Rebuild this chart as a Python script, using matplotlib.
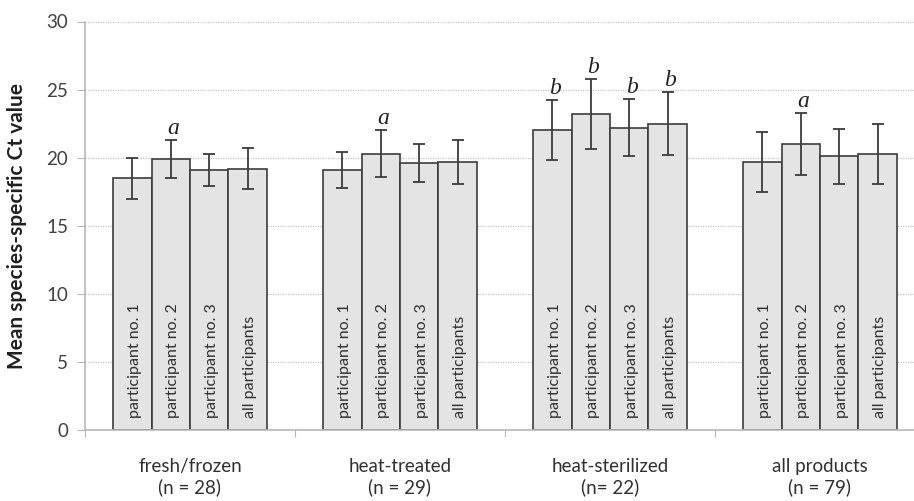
import matplotlib.pyplot as plt
import numpy as np

groups = ['fresh/frozen\n(n = 28)', 'heat-treated\n(n = 29)',
          'heat-sterilized\n(n= 22)', 'all products\n(n = 79)']
bar_labels = ['participant no. 1', 'participant no. 2',
              'participant no. 3', 'all participants']
# mean Ct per group (rows) and participant (columns)
means = [[18.5, 19.9, 19.1, 19.2],
         [19.1, 20.3, 19.6, 19.7],
         [22.0, 23.2, 22.2, 22.5],
         [19.7, 21.0, 20.1, 20.3]]
errors = [[1.5, 1.4, 1.2, 1.5],
          [1.3, 1.7, 1.4, 1.6],
          [2.2, 2.6, 2.1, 2.3],
          [2.2, 2.3, 2.0, 2.2]]
letters = [['', 'a', '', ''],
           ['', 'a', '', ''],
           ['b', 'b', 'b', 'b'],
           ['', 'a', '', '']]

plt.rcParams['font.family'] = ['Lato', 'DejaVu Sans']

fig = plt.figure(figsize=(9.14, 5.01), dpi=100)
ax = fig.add_axes([85 / 914, 71 / 501, 840 / 914, 408.5 / 501])

means = np.array(means)
errors = np.array(errors)
width = 0.183
offsets = (np.arange(4) - 1.5) * width
txt_col = '#404040'
edge = '#3c3c3c'

for g in range(len(groups)):
    xs = g + 0.5 + offsets
    ax.bar(xs, means[g], width=width, color='#e4e4e4', edgecolor=edge,
           linewidth=1.2, zorder=2)
    ax.errorbar(xs, means[g], yerr=errors[g], fmt='none', ecolor=edge,
                elinewidth=1.3, capsize=4, capthick=1.3, zorder=3)
    for i, x in enumerate(xs):
        ax.text(x + 0.012, 0.85, bar_labels[i], rotation=90, ha='center',
                va='bottom', fontsize=11.5, color='#303030', zorder=4)
        if letters[g][i]:
            ax.text(x + 0.012, means[g][i] + errors[g][i] + 0.45, letters[g][i],
                    ha='center', va='baseline', fontsize=17, style='italic',
                    family='Liberation Serif', color='#222222', zorder=4)

ax.set_xlim(0, 4)
ax.set_ylim(0, 30)
ax.set_yticks(np.arange(0, 31, 5))
ax.yaxis.grid(True, linestyle=(0, (1, 1)), color='#c4c4c4', linewidth=0.9, zorder=0)
ax.set_axisbelow(True)

ax.set_xticks(np.arange(0, 5))
ax.set_xticklabels([])
ax.set_xticks(np.arange(4) + 0.5, minor=True)
ax.set_xticklabels(groups, minor=True, fontsize=13.5, color='#303030',
                   linespacing=1.25)
ax.tick_params(axis='x', which='minor', length=0, pad=20)
ax.tick_params(axis='x', which='major', length=5, color='#b8b8b8')
ax.tick_params(axis='y', length=6, color='#b8b8b8', labelsize=13.5,
               labelcolor=txt_col, pad=6)

for s in ['top', 'right']:
    ax.spines[s].set_visible(False)
for s in ['left', 'bottom']:
    ax.spines[s].set_color('#b8b8b8')
    ax.spines[s].set_linewidth(1.2)

ax.set_ylabel('Mean species-specific Ct value', fontsize=15, fontweight='bold',
              color='#202020', labelpad=14)

fig.savefig('out.png', dpi=100)
